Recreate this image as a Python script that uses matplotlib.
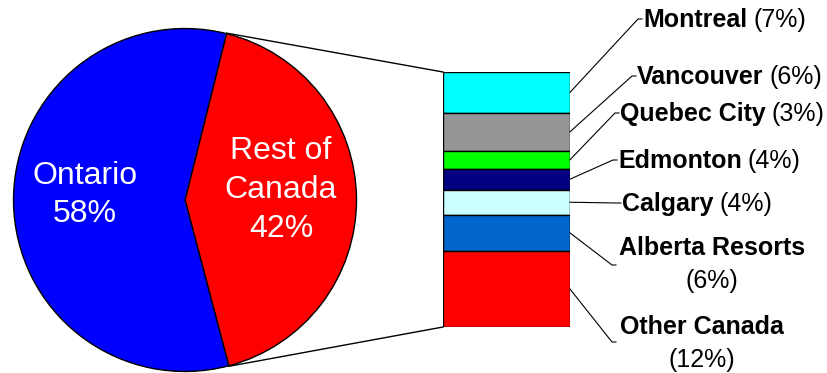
import matplotlib
matplotlib.use("Agg")
import matplotlib.pyplot as plt
import numpy as np

plt.rcParams['font.family'] = ['Liberation Sans', 'DejaVu Sans']

# pie data
pie_labels = ["Rest of\nCanada\n42%", "Ontario\n58%"]
pie_values = [42, 58]
pie_colors = ["#FF0000", "#0000FF"]

# bar-of-pie breakdown (top to bottom)
cities = ["Montreal", "Vancouver", "Quebec City", "Edmonton", "Calgary",
          "Alberta Resorts", "Other Canada"]
city_values = [6.7, 6.3, 2.9, 3.5, 4.1, 6.0, 12.5]
city_pct = ["(7%)", "(6%)", "(3%)", "(4%)", "(4%)", "(6%)", "(12%)"]
city_colors = ["#00FFFF", "#969696", "#00FF00", "#000080", "#CCFFFF",
               "#0066CC", "#FF0000"]

W, H = 827, 373


def main():
    fig = plt.figure(figsize=(W / 100, H / 100), dpi=100)

    # pie
    cx, cy, r = 185, 200, 172
    axp = fig.add_axes([(cx - r) / W, (H - cy - r) / H, 2 * r / W, 2 * r / H])
    red_span = pie_values[0] / sum(pie_values) * 360
    start = -red_span / 2 + 0.4
    axp.pie(pie_values, colors=pie_colors, startangle=start,
            wedgeprops=dict(edgecolor="black", linewidth=1))
    axp.set_xlim(-1.003, 1.003)
    axp.set_ylim(-1.003, 1.003)
    axp.set_aspect("equal")
    axp.axis("off")

    # stacked bar
    bx0, by0, bx1, by1 = 443, 72, 570, 327
    axb = fig.add_axes([bx0 / W, (H - by1) / H, (bx1 - bx0) / W, (by1 - by0) / H])
    total = sum(city_values)
    bottom = total
    mids = []
    for v, c in zip(city_values, city_colors):
        bottom -= v
        axb.bar(0.5, v, width=1, bottom=bottom, color=c,
                edgecolor="black", linewidth=1)
        mids.append(bottom + v / 2)
    axb.set_xlim(0, 1)
    axb.set_ylim(0, total)
    axb.axis("off")

    # overlay axes in pixel coords for connectors and labels
    ov = fig.add_axes([0, 0, 1, 1], zorder=10)
    ov.set_xlim(0, W)
    ov.set_ylim(H, 0)
    ov.axis("off")

    ov.text(281, 190, pie_labels[0], color="white", fontsize=23,
            ha="center", va="center", linespacing=1.38)
    ov.text(85, 195, pie_labels[1], color="white", fontsize=23,
            ha="center", va="center", linespacing=1.38)

    # connectors from pie to bar
    a1 = np.radians(start + red_span)
    a0 = np.radians(start)
    ov.plot([cx + r * np.cos(a1), bx0], [cy - r * np.sin(a1), by0],
            color="black", lw=1)
    ov.plot([cx + r * np.cos(a0), bx0], [cy - r * np.sin(a0), by1],
            color="black", lw=1)

    # leader lines from bar segments to labels
    ends = [(638, 19), (632, 76), (615, 113), (613, 160), (617, 203),
            (612, 265), (612, 342)]
    fig.canvas.draw()
    rend = fig.canvas.get_renderer()
    fs = 18
    for i, (name, pct) in enumerate(zip(cities, city_pct)):
        ex, ey = ends[i]
        sy = by0 + (total - mids[i]) / total * (by1 - by0)
        ov.plot([bx1, ex, ex + 4], [sy, ey, ey], color="black", lw=0.8)
        if i < 5:
            t = ov.text(ex + 5, ey + 1, name, fontsize=fs, fontweight="bold",
                        ha="left", va="center")
            bb = t.get_window_extent(renderer=rend)
            ov.text(ex + 5 + bb.width + 6, ey + 1, pct, fontsize=fs,
                    ha="left", va="center")
        else:
            tx = 712 if i == 5 else 702
            ty = 248 if i == 5 else 327
            ov.text(tx, ty, name, fontsize=fs, fontweight="bold",
                    ha="center", va="center")
            ov.text(tx, ty + 33, pct, fontsize=fs, ha="center", va="center")

    fig.savefig("out.png", dpi=100)


if __name__ == "__main__":
    main()
